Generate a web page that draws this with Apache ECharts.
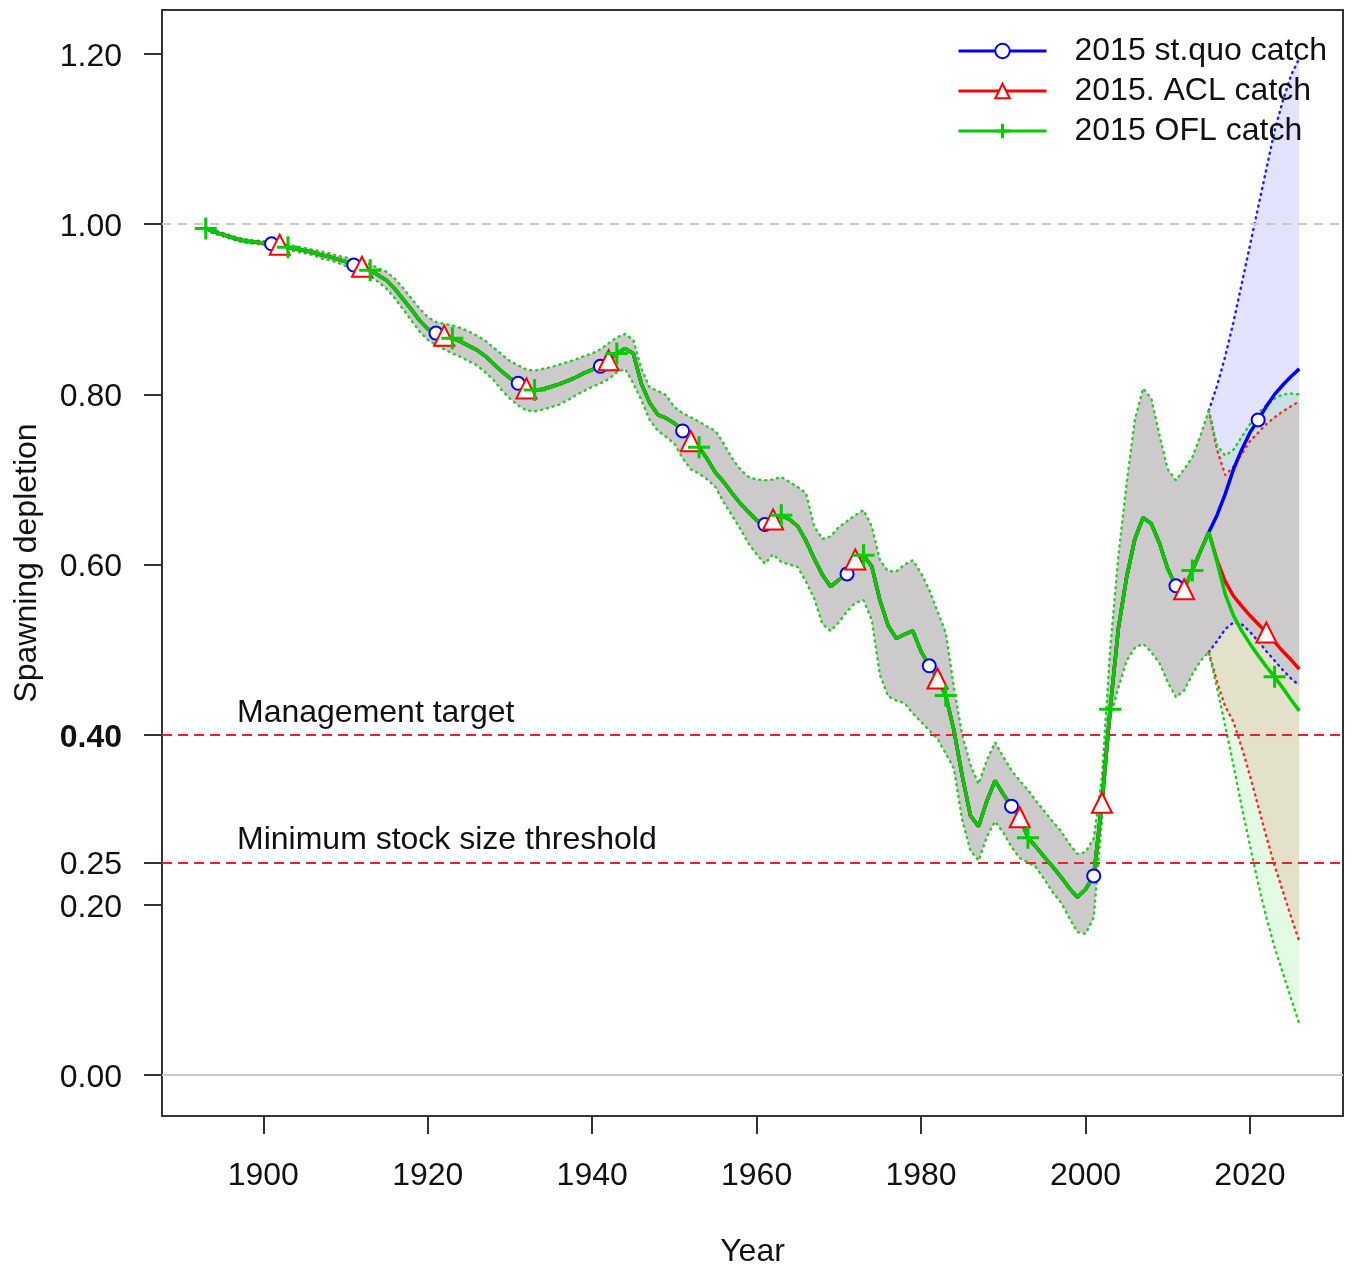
<!DOCTYPE html>
<html><head><meta charset="utf-8">
<script src="https://cdn.jsdelivr.net/npm/echarts@6/dist/echarts.min.js"></script>
<style>html,body{margin:0;padding:0;background:#fff}#c{width:1354px;height:1270px}</style>
</head><body><div id="c"></div><script>
// ---------- data ----------
const firstYear = 1893, lastHistYear = 2015, lastYear = 2026;
// historical spawning depletion (shared by all scenarios), 1893..2015
const histMid = [
0.995,0.991,0.988,0.985,0.982,0.980,0.979,
0.978,0.977,0.976,0.973,0.971,0.969,0.967,0.964,0.962,0.959,
0.956,0.952,0.950,0.946,0.940,0.934,0.924,0.912,0.900,0.887,
0.877,0.872,0.869,0.866,0.862,0.857,0.852,0.845,0.836,0.827,
0.819,0.813,0.807,0.805,0.806,0.809,0.812,0.816,0.820,0.825,
0.829,0.833,0.840,0.848,0.854,0.848,0.812,0.790,0.776,0.772,
0.766,0.757,0.745,0.738,0.724,0.708,0.697,0.684,0.672,0.662,
0.652,0.647,0.653,0.658,0.653,0.645,0.628,0.607,0.588,0.574,
0.582,0.589,0.606,0.611,0.598,0.558,0.528,0.513,0.518,0.522,
0.498,0.481,0.466,0.446,0.405,0.352,0.305,0.292,0.322,0.346,
0.330,0.316,0.303,0.279,0.268,0.256,0.245,0.233,0.220,0.209,
0.218,0.234,0.320,0.430,0.525,0.585,0.630,0.655,0.648,0.625,
0.595,0.575,0.571,0.593,0.616,0.638];
const histHi = [
0.997,0.993,0.990,0.987,0.984,0.982,0.981,
0.980,0.980,0.979,0.976,0.974,0.972,0.970,0.968,0.966,0.963,
0.961,0.958,0.956,0.953,0.948,0.944,0.936,0.925,0.913,0.901,
0.891,0.885,0.883,0.881,0.878,0.874,0.869,0.863,0.855,0.847,
0.839,0.834,0.829,0.828,0.830,0.832,0.835,0.838,0.841,0.845,
0.848,0.853,0.860,0.867,0.871,0.864,0.830,0.808,0.804,0.799,
0.785,0.778,0.773,0.768,0.762,0.757,0.742,0.725,0.712,0.703,
0.700,0.699,0.700,0.703,0.697,0.691,0.684,0.645,0.630,0.633,
0.644,0.651,0.658,0.664,0.645,0.605,0.592,0.592,0.600,0.605,
0.590,0.570,0.545,0.520,0.455,0.400,0.365,0.342,0.370,0.391,
0.374,0.358,0.346,0.335,0.322,0.310,0.298,0.287,0.272,0.260,
0.262,0.278,0.350,0.500,0.610,0.695,0.770,0.807,0.795,0.752,
0.712,0.699,0.712,0.726,0.752,0.781];
const histLo = [
0.993,0.989,0.986,0.983,0.980,0.978,0.977,
0.976,0.974,0.973,0.970,0.968,0.966,0.964,0.960,0.958,0.955,
0.951,0.946,0.944,0.939,0.932,0.924,0.913,0.900,0.887,0.874,
0.864,0.858,0.853,0.848,0.844,0.839,0.834,0.826,0.817,0.805,
0.795,0.787,0.781,0.780,0.782,0.785,0.788,0.793,0.799,0.804,
0.809,0.813,0.818,0.826,0.830,0.813,0.793,0.770,0.757,0.750,
0.742,0.725,0.712,0.707,0.700,0.691,0.673,0.658,0.642,0.625,
0.612,0.601,0.612,0.603,0.600,0.597,0.580,0.560,0.530,0.522,
0.532,0.545,0.555,0.558,0.535,0.470,0.445,0.440,0.437,0.425,
0.415,0.405,0.395,0.378,0.360,0.300,0.264,0.252,0.280,0.298,
0.285,0.268,0.255,0.250,0.244,0.230,0.215,0.203,0.185,0.168,
0.166,0.185,0.300,0.420,0.455,0.487,0.502,0.507,0.497,0.484,
0.462,0.444,0.452,0.471,0.487,0.497];
// projections 2016..2026
const quoMid = [0.658,0.683,0.712,0.735,0.755,0.770,0.786,0.800,0.811,0.821,0.830];
const quoLo  = [0.510,0.524,0.532,0.530,0.521,0.510,0.498,0.487,0.476,0.466,0.458];
const quoHi  = [0.810,0.845,0.885,0.930,0.975,1.020,1.065,1.110,1.145,1.175,1.195];
const aclMid = [0.605,0.580,0.563,0.551,0.540,0.530,0.520,0.509,0.498,0.488,0.477];
const aclLo  = [0.462,0.433,0.415,0.385,0.352,0.316,0.280,0.246,0.216,0.186,0.157];
const aclHi  = [0.735,0.705,0.715,0.730,0.745,0.755,0.765,0.773,0.780,0.786,0.792];
const oflMid = [0.603,0.565,0.540,0.522,0.507,0.493,0.480,0.468,0.455,0.441,0.428];
const oflLo  = [0.455,0.410,0.364,0.315,0.270,0.225,0.185,0.150,0.120,0.090,0.060];
const oflHi  = [0.740,0.728,0.735,0.750,0.765,0.778,0.787,0.795,0.800,0.801,0.800];
const scenarioNames = ['2015 st.quo catch','2015. ACL catch','2015 OFL catch'];
const quoMarkerYears = [1901,1911,1921,1931,1941,1951,1961,1971,1981,1991,2001,2011,2021];
const aclMarkerYears = [1902,1912,1922,1932,1942,1952,1962,1972,1982,1992,2002,2012,2022];
const oflMarkerYears = [1893,1903,1913,1923,1933,1943,1953,1963,1973,1983,1993,2003,2013,2023];
const xTicks = [1900,1920,1940,1960,1980,2000,2020];
const yTicks = [0,0.2,0.25,0.4,0.6,0.8,1.0,1.2];
const refLevels = [0.4,0.25];
const refLabels = ['Management target','Minimum stock size threshold'];
const unfishedLevel = 1.0;

// ---------- build ----------
const years = [];
for (let y = firstYear; y <= lastYear; y++) years.push(y);
const nHist = lastHistYear - firstYear + 1;
const full = (hist, proj) => years.map((y, i) => i < nHist ? hist[i] : proj[i - nHist]);
const FONT = 'Liberation Sans, Arial, sans-serif';
const scen = [
  {name: scenarioNames[0], color: '#0000FF', dot: '#2020FF', fill: 'rgba(0,0,255,0.11)', mid: full(histMid, quoMid), lo: full(histLo, quoLo), hi: full(histHi, quoHi), mk: quoMarkerYears, symbol: 'emptyCircle', size: 13, boundsFrom: lastHistYear},
  {name: scenarioNames[1], color: '#FF0000', dot: '#F03030', fill: 'rgba(255,0,0,0.11)', mid: full(histMid, aclMid), lo: full(histLo, aclLo), hi: full(histHi, aclHi), mk: aclMarkerYears, symbol: 'emptyTriangle', size: 20, boundsFrom: lastHistYear},
  {name: scenarioNames[2], color: '#00CD00', dot: '#30C830', fill: 'rgba(0,205,0,0.11)', mid: full(histMid, oflMid), lo: full(histLo, oflLo), hi: full(histHi, oflHi), mk: oflMarkerYears, symbol: 'path://M10,0L10,20M0,10L20,10', size: 22, boundsFrom: firstYear}
];
const series = [];
// reference lines (gray)
series.push({type: 'line', data: [], silent: true, z: 1,
  markLine: {silent: true, symbol: 'none', animation: false, label: {show: false},
    data: [
      {yAxis: unfishedLevel, lineStyle: {color: '#c8c8c8', type: [9, 7], width: 2}},
      {yAxis: 0, lineStyle: {color: '#c8c8c8', type: 'solid', width: 2}}
    ]}});
// bands
scen.forEach((s) => {
  const data = years.map((y, i) => [y, s.lo[i], s.hi[i]]);
  series.push({type: 'custom', silent: true, z: 2, clip: true, data, encode: {x: 0, y: [1, 2]},
    renderItem(params, api) {
      if (params.dataIndex !== 0) return null;
      const pts = [];
      for (let i = 0; i < data.length; i++) pts.push(api.coord([data[i][0], data[i][2]]));
      for (let i = data.length - 1; i >= 0; i--) pts.push(api.coord([data[i][0], data[i][1]]));
      return {type: 'polygon', shape: {points: pts}, style: {fill: s.fill, stroke: null}};
    }});
});
// bound lines (dotted)
scen.forEach((s) => {
  ['lo', 'hi'].forEach(b => {
    const d = [];
    years.forEach((y, i) => { if (y >= s.boundsFrom) d.push([y, s[b][i]]); });
    series.push({type: 'line', silent: true, z: 3, showSymbol: false, symbol: 'none', data: d,
      lineStyle: {color: s.dot, width: 2.5, type: [1, 5], cap: 'round'}});
  });
});
// main lines
scen.forEach((s, k) => {
  const ser = {name: s.name, type: 'line', silent: true, z: 5, showSymbol: false,
    symbol: s.symbol, symbolSize: s.size,
    data: years.map((y, i) => [y, s.mid[i]]),
    lineStyle: {color: s.color, width: 3.5},
    itemStyle: {color: s.color, borderColor: s.color, borderWidth: 3}};
  if (k === 0) {
    ser.markLine = {silent: true, symbol: 'none', animation: false,
      lineStyle: {color: '#F02020', type: [10, 6], width: 2},
      label: {show: true, position: 'insideStartTop', formatter: p => p.name,
        fontSize: 32, fontFamily: FONT, color: '#111', padding: [0, 0, 0, 69], distance: 6},
      data: refLevels.map((v, i) => ({yAxis: v, name: refLabels[i]}))};
  }
  series.push(ser);
});
// markers
scen.forEach((s) => {
  series.push({type: 'scatter', silent: true, z: 6, symbol: s.symbol, symbolSize: s.size,
    data: s.mk.map(y => [y, s.mid[years.indexOf(y)]]),
    itemStyle: {color: s.symbol.startsWith('path') ? 'none' : s.color, borderColor: s.color, borderWidth: 3, opacity: 1}});
});

const chart = echarts.init(document.getElementById('c'), null, {renderer: 'canvas'});
chart.setOption({
  animation: false,
  backgroundColor: '#fff',
  grid: {left: 162, right: 11, top: 10, bottom: 154, containLabel: false, outerBoundsMode: 'none',
    show: true, borderColor: '#333', borderWidth: 2, backgroundColor: 'transparent'},
  legend: {left: 957, top: 35, orient: 'vertical', selectedMode: false, itemWidth: 88, itemHeight: 18, itemGap: 8, padding: 0,
    lineStyle: {width: 3}, itemStyle: {borderWidth: 3},
    textStyle: {fontSize: 32, color: '#111', fontFamily: FONT, padding: [0, 0, 0, 23]},
    data: scenarioNames},
  xAxis: {type: 'value', min: 1887.68, max: 2031.32,
    name: 'Year', nameLocation: 'middle', nameGap: 120,
    nameTextStyle: {fontSize: 32, color: '#111', fontFamily: FONT},
    axisLine: {show: false, onZero: false}, splitLine: {show: false},
    axisTick: {show: true, inside: false, length: 18, customValues: xTicks, lineStyle: {color: '#333', width: 2}},
    axisLabel: {customValues: xTicks, margin: 44, fontSize: 32, color: '#111', fontFamily: FONT, formatter: v => String(v)}},
  yAxis: {type: 'value', min: -0.0482, max: 1.2518,
    name: 'Spawning depletion', nameLocation: 'middle', nameGap: 119, nameRotate: 90,
    nameTextStyle: {fontSize: 32, color: '#111', fontFamily: FONT},
    axisLine: {show: false, onZero: false}, splitLine: {show: false},
    axisTick: {show: true, inside: false, length: 18, customValues: yTicks, lineStyle: {color: '#333', width: 2}},
    axisLabel: {customValues: yTicks, margin: 40, fontSize: 32, color: '#111', fontFamily: FONT, padding: [6, 0, 0, 0],
      formatter: v => Math.abs(v - 0.4) < 1e-9 ? '{b|0.40}' : v.toFixed(2),
      rich: {b: {fontSize: 32, fontWeight: 'bold', color: '#111', fontFamily: FONT}}}},
  series
});
</script></body></html>
